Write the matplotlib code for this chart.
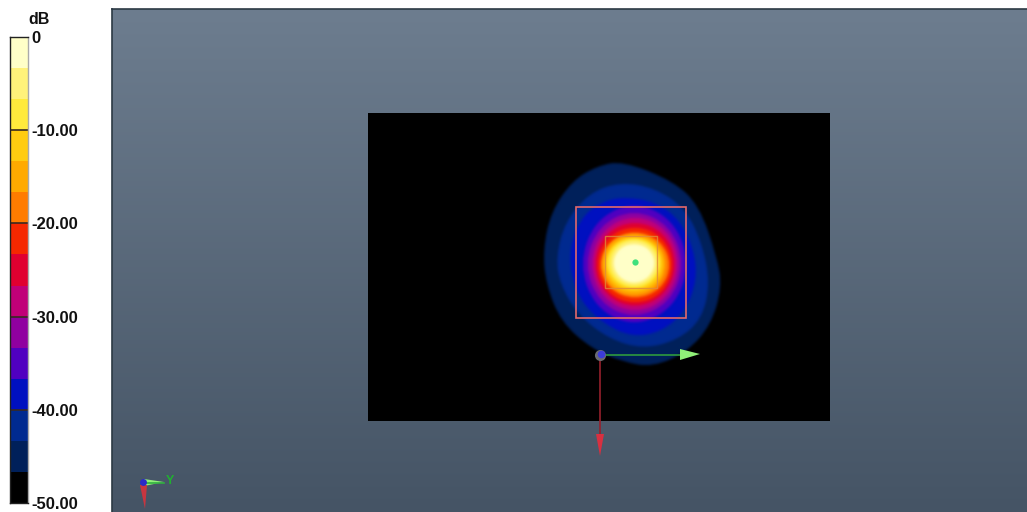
import numpy as np
import matplotlib.pyplot as plt
from matplotlib.colors import LinearSegmentedColormap
from matplotlib.path import Path
from matplotlib.patches import PathPatch, Rectangle

plt.rcParams['font.family'] = ['Liberation Sans', 'DejaVu Sans']

# colour bar, top band first
band_colors = ['#ffffc8', '#fff27a', '#ffea3c', '#ffcc10', '#ffaa00', '#ff7c00', '#f52800', '#e00030',
               '#c00078', '#9000a0', '#5000c0', '#0010c0', '#002a90', '#00205a', '#000000']
band_tops = [0, -3.33, -6.67, -10, -13.33, -16.67, -20, -23.33, -26.67, -30, -33.33, -36.67, -40, -43.33, -46.67]
band_height = 3.34
tick_values = [0, -10, -20, -30, -40, -50]
tick_labels = ['0', '-10.00', '-20.00', '-30.00', '-40.00', '-50.00']

# contour outlines in picture pixels, outer to inner
navy_x = [623, 673, 699, 717, 722, 711, 687, 653, 623, 592, 561, 546, 543, 551, 572, 597]
navy_y = [161, 181, 205, 257, 287, 325, 352, 367, 362, 349, 322, 284, 250, 212, 181, 166]
deep_x = [620, 655, 685, 702, 710, 702, 678, 643, 609, 578, 560, 556, 565, 589]
deep_y = [182, 188, 208, 243, 283, 319, 340, 349, 339, 315, 284, 257, 222, 193]
blue_x = [625, 656, 680, 694, 697, 685, 661, 632, 604, 581, 570, 571, 585, 604]
blue_y = [197, 202, 220, 250, 280, 312, 332, 337, 324, 302, 272, 240, 213, 201]
indigo_x = [634, 674, 690, 674, 634, 595, 579, 595]
indigo_y = [201, 220, 264, 308, 327, 308, 264, 220]
purple_x = [634, 670, 685, 670, 634, 599, 584, 599]
purple_y = [209, 225, 264, 303, 319, 303, 264, 225]
magenta_x = [635, 668, 681, 668, 635, 602, 589, 602]
magenta_y = [214, 229, 264, 299, 314, 299, 264, 229]
crimson_x = [635, 665, 678, 665, 635, 605, 592, 605]
crimson_y = [220, 232, 264, 296, 309, 296, 264, 232]
red_x = [635, 663, 675, 663, 635, 607, 595, 607]
red_y = [225, 236, 265, 294, 305, 294, 265, 236]
orange_x = [635, 661, 672, 661, 635, 609, 598, 609]
orange_y = [230, 240, 265, 290, 300, 290, 265, 240]
amber_x = [634, 658, 668, 658, 634, 610, 600, 610]
amber_y = [232, 241, 264, 288, 297, 288, 264, 241]
gold_x = [634, 656, 665, 656, 634, 612, 603, 612]
gold_y = [235, 243, 264, 285, 293, 285, 264, 243]
yellow_x = [634, 654, 662, 654, 634, 614, 605, 614]
yellow_y = [237, 244, 263, 282, 290, 282, 263, 244]
pale_x = [634, 652, 659, 652, 634, 616, 609, 616]
pale_y = [239, 246, 263, 280, 287, 280, 263, 246]
cream_x = [634, 649, 656, 649, 634, 619, 612, 619]
cream_y = [243, 248, 263, 278, 284, 278, 263, 248]

contours = [(navy_x, navy_y), (deep_x, deep_y), (blue_x, blue_y), (indigo_x, indigo_y), (purple_x, purple_y),
            (magenta_x, magenta_y), (crimson_x, crimson_y), (red_x, red_y), (orange_x, orange_y),
            (amber_x, amber_y), (gold_x, gold_y), (yellow_x, yellow_y), (pale_x, pale_y), (cream_x, cream_y)]
contour_colors = band_colors[-2::-1]


def smooth_outline(xs, ys):
    # closed quadratic curve, the read points are the control points
    mid_x = [(xs[i] + xs[(i + 1) % len(xs)]) / 2 for i in range(len(xs))]
    mid_y = [(ys[i] + ys[(i + 1) % len(ys)]) / 2 for i in range(len(ys))]
    verts = [(mid_x[-1], mid_y[-1])]
    codes = [Path.MOVETO]
    for i in range(len(xs)):
        verts += [(xs[i], ys[i]), (mid_x[i], mid_y[i])]
        codes += [Path.CURVE3, Path.CURVE3]
    return Path(verts, codes)


def soften(image, dpi):
    # blur only the alpha of a one colour patch, the reference is an upscaled screenshot
    pad = 4
    solid = image.reshape(-1, 4)[image[..., 3].argmax()]
    alpha = np.pad(image[..., 3], pad)
    kernel = np.ones(3) / 3
    for _ in range(2):
        alpha = np.apply_along_axis(np.convolve, 0, alpha, kernel, mode='same')
        alpha = np.apply_along_axis(np.convolve, 1, alpha, kernel, mode='same')
    out = np.zeros(alpha.shape + (4,), dtype=image.dtype)
    out[..., :3] = solid[:3]
    out[..., 3] = alpha
    return out, -pad, -pad


fig = plt.figure(figsize=(10.27, 5.12), dpi=100)
ax = fig.add_axes([0, 0, 1, 1])
ax.axis('off')

# scene background
sky = LinearSegmentedColormap.from_list('sky', ['#6d7d8f', '#455465'])
ax.imshow(np.linspace(0, 1, 256).reshape(-1, 1), cmap=sky, extent=(112, 1027, 512, 9), aspect='auto', zorder=0)
ax.set_xlim(0, 1027)
ax.set_ylim(512, 0)
ax.plot([112, 112], [9, 512], color='#2c3a44', lw=1.2, zorder=1)
ax.plot([112, 1027], [9, 9], color='#2c3a44', lw=1.2, zorder=1)

ax.add_patch(Rectangle((368, 113), 462, 308, fc='black', ec='none', zorder=2))

for (xs, ys), c in zip(contours, contour_colors):
    patch = PathPatch(smooth_outline(xs, ys), fc=c, ec='none', zorder=3)
    patch.set_agg_filter(soften)
    ax.add_patch(patch)

# boxes and markers
ax.add_patch(Rectangle((575.5, 207), 110.5, 110.5, fc='none', ec='#e4686a', lw=1.2, zorder=4))
ax.add_patch(Rectangle((605, 236), 52, 52, fc='none', ec='#e08a3a', lw=1.0, alpha=0.8, zorder=4))
ax.plot([635], [262], 'o', ms=4.5, color='#3fe07c', mec='none', zorder=5)

# origin triad
ax.plot([600, 682], [355, 355], color='#2e9a3e', lw=1.2, zorder=5)
ax.fill([680, 700, 680], [349, 354, 360], color='#90f078', ec='none', zorder=6)
ax.plot([600, 600], [355, 438], color='#96202c', lw=1.2, zorder=5)
ax.fill([596, 600, 604], [434, 456, 434], color='#d83040', ec='none', zorder=6)
ax.plot([600], [355], 'o', ms=8, color='#6a6a70', mec='none', zorder=6)
ax.plot([601], [354], 'o', ms=5.5, color='#3c3cd8', mec='none', zorder=7)

# corner triad
ax.fill([144, 164, 144], [479, 482, 486], color='#90f078', ec='none', zorder=5)
ax.plot([146, 164], [483, 483], color='#30b040', lw=1.2, zorder=5)
ax.fill([140, 147, 145], [485, 485, 509], color='#c83640', ec='none', zorder=5)
ax.plot([143], [482], 'o', ms=5, color='#2a2ac8', mec='none', zorder=6)
ax.text(170, 481, 'Y', color='#20b030', fontsize=9, fontweight='bold', ha='center', va='center', zorder=6)

# colour bar
cax = fig.add_axes([10 / 1027, 1 - 503 / 512, 18 / 1027, 466 / 512])
cax.bar([0] * len(band_tops), [band_height] * len(band_tops), bottom=[t - band_height for t in band_tops],
        width=1, color=band_colors, align='center')
cax.set_xlim(-0.5, 0.5)
cax.set_ylim(-50, 0)
cax.set_xticks([])
cax.set_yticks(tick_values)
cax.set_yticklabels(tick_labels, fontsize=12, fontweight='bold', color='#111111')
cax.yaxis.tick_right()
cax.tick_params(axis='y', length=0, pad=2.5)
for v in tick_values[1:-1]:
    cax.axhline(v, color='#3a2a20', lw=1.2)
for side in ['top', 'left', 'bottom']:
    cax.spines[side].set_color('#222222')
    cax.spines[side].set_linewidth(1)
cax.spines['right'].set_color('#aaaaaa')
cax.spines['right'].set_linewidth(1)
fig.text(39 / 1027, 1 - 19.5 / 512, 'dB', fontsize=11.5, fontweight='bold', color='#111111', ha='center', va='center')

fig.savefig('out.png', dpi=100)
